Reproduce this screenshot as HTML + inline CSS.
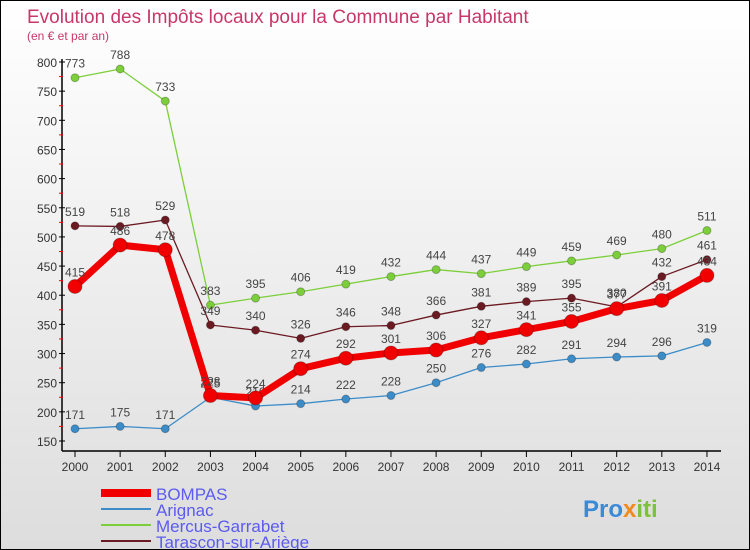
<!DOCTYPE html>
<html><head><meta charset="utf-8"><style>
body{margin:0}
#c{width:748px;height:548px;border:1px solid #000;background:linear-gradient(#fff,#ddd);position:relative;font-family:"Liberation Sans",sans-serif;overflow:hidden}
</style></head><body>
<div id="c">
<svg id="s" width="748" height="548"></svg>
</div>
<script>
const years=[2000,2001,2002,2003,2004,2005,2006,2007,2008,2009,2010,2011,2012,2013,2014];
const bompas=[415,486,478,228,224,274,292,301,306,327,341,355,377,391,434];
const arignac=[171,175,171,225,210,214,222,228,250,276,282,291,294,296,319];
const mercus=[773,788,733,383,395,406,419,432,444,437,449,459,469,480,511];
const tarascon=[519,518,529,349,340,326,346,348,366,381,389,395,380,432,461];
const yTicks=[150,200,250,300,350,400,450,500,550,600,650,700,750,800];
const NS="http://www.w3.org/2000/svg",s=document.getElementById('s');
const X=i=>74+i*45.14, Y=v=>440-(v-150)*379/650;
function el(t,a,p){const e=document.createElementNS(NS,t);for(const k in a)e.setAttribute(k,a[k]);(p||s).appendChild(e);return e;}
function tx(x,y,str,a){const e=el('text',Object.assign({x:x,y:y},a));e.textContent=str;return e;}
let t=tx(26,22,"Evolution des Impôts locaux pour la Commune par Habitant",{fill:"#c8376a","font-size":19});

t=tx(26,39,"(en € et par an)",{fill:"#c8376a","font-size":12});

let ax=el('line',{x1:61,y1:58,x2:61,y2:450,stroke:"#000","stroke-width":1.5});

ax=el('line',{x1:61,y1:450,x2:720,y2:450,stroke:"#000","stroke-width":1.5});

yTicks.forEach(v=>{el('line',{x1:58,x2:64,y1:Y(v),y2:Y(v),stroke:"#000"});
 if(v<800)el('line',{x1:58,x2:62,y1:Y(v+25),y2:Y(v+25),stroke:"#f00"});
 const l=tx(56,Y(v)+5,v,{"text-anchor":"end","font-size":12,fill:"#333"});
 });
years.forEach((y,i)=>{el('line',{x1:X(i),x2:X(i),y1:450,y2:456,stroke:"#000"});
 const l=tx(X(i),470,y,{"text-anchor":"middle","font-size":12,fill:"#333"});
 });
function series(d,col,w,r,name){
 const g=el('g',{});
 el('polyline',{points:d.map((v,i)=>X(i)+','+Y(v)).join(' '),fill:"none",stroke:col,"stroke-width":w,"stroke-linejoin":"round"},g);
 d.forEach((v,i)=>{const c=el('circle',{cx:X(i),cy:Y(v),r:r,fill:col,stroke:"rgba(0,0,0,0.25)"},g);
  
  const l=tx(X(i),Y(v)-10,v,{"text-anchor":"middle","font-size":12,fill:"#444"},g);
  });
}
series(mercus,"#7ccf3a",1.3,4,"mercus-garrabet");
series(tarascon,"#6b1a22",1.3,4,"tarascon");
series(arignac,"#3c8cc8",1.3,4,"arignac");
series(bompas,"#f00000",7,7,"bompas");
const leg=[["BOMPAS","#f00000",8],["Arignac","#3c8cc8",2],["Mercus-Garrabet","#7ccf3a",2],["Tarascon-sur-Ariège","#6b1a22",2]];
leg.forEach((d,i)=>{const g=el('g',{});
 const y=492+i*16;el('line',{x1:100,x2:150,y1:y,y2:y,stroke:d[1],"stroke-width":d[2]},g);
 tx(155,y+7,d[0],{"font-size":17,fill:"#5b5bf0"},g);});
const lg=el('text',{x:582,y:516,"font-size":24,"font-weight":"bold"});

[["Pro","#3a8ad8"],["x","#f08a1a"],["iti","#7cc23a"]].forEach(p=>{const ts=el('tspan',{fill:p[1]},lg);ts.textContent=p[0];});
</script>
</body></html>
